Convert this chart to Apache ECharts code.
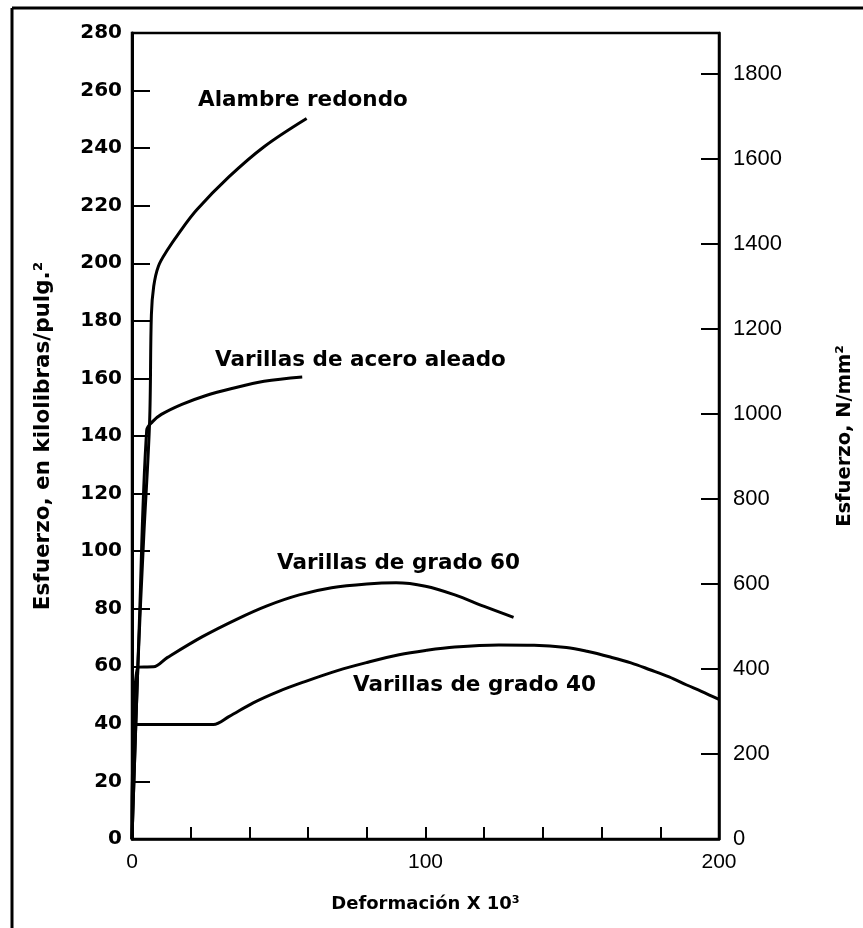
<!DOCTYPE html>
<html>
<head>
<meta charset="utf-8">
<title>Esfuerzo - Deformación</title>
<script src="https://cdn.jsdelivr.net/npm/echarts@6/dist/echarts.min.js"></script>
<style>
  html, body { margin: 0; padding: 0; background: #fff; }
  #chart { width: 863px; height: 928px; }
</style>
</head>
<body>
<div id="chart"></div>
<script>
// deformación x 10^3 , esfuerzo en ksi
var alambreRedondo = [[0, 0], [2, 60], [4, 105], [6, 145], [6.6, 182], [7.4, 192], [9, 199], [12, 204.5], [16, 210.5], [22, 218.5], [33, 230], [45, 240.5], [59.5, 250.3]]
var aceroAleado = [[0, 0], [2.5, 75], [5, 142], [7, 145], [10, 147.5], [17, 151], [25, 154], [34, 156.5], [45, 159], [58, 160.5]]
var grado60 = [[0, 0], [2, 59.7], [7.3, 59.8], [12, 63], [24, 70.3], [36, 76.5], [46, 81], [57, 84.8], [68, 87.3], [80, 88.6], [90, 89], [100, 87.8], [110, 84.8], [120, 80.8], [130, 77]]
var grado40 = [[0, 0], [1.4, 39.8], [27.7, 39.8], [33, 42.5], [41.3, 47.3], [50, 51.3], [58.4, 54.5], [70, 58.5], [80, 61.3], [91, 64], [100, 65.5], [110, 66.7], [125, 67.4], [137, 67.3], [148, 66.5], [155, 65.2], [163, 63.2], [170, 61.2], [176.5, 58.8], [183, 56.3], [189, 53.5], [194, 51.3], [200, 48.5]]

var nombres = ['Alambre redondo', 'Varillas de acero aleado', 'Varillas de grado 60', 'Varillas de grado 40']
// donde va el rotulo de cada curva (coordenadas de datos)
var posRotulos = [[22.5, 256.7], [28.3, 166.4], [49.4, 95.9], [75.3, 53.5]]

var xTicks = [0, 100, 200]

var chart = echarts.init(document.getElementById('chart'))

function serie(nombre, datos, i) {
	return {
		name: nombre,
		type: 'line',
		data: datos,
		smooth: 0.35,
		symbol: 'none',
		lineStyle: { color: '#000', width: 3 },
		animation: false,
		markPoint: {
			symbolSize: 0,
			animation: false,
			label: {
				show: true,
				position: 'right',
				distance: 0,
				color: '#000',
				fontFamily: 'DejaVu Sans',
				fontWeight: 'bold',
				fontSize: 21.5,
				formatter: nombre
			},
			data: [{ coord: posRotulos[i] }]
		}
	}
}

chart.setOption({
	backgroundColor: '#fff',
	grid: {
		left: 132,
		right: 144,
		top: 33,
		bottom: 89,
		show: true,
		borderColor: '#000',
		borderWidth: 2.5,
		outerBoundsMode: 'none'
	},
	xAxis: {
		type: 'value',
		min: 0,
		max: 200,
		interval: 20,
		name: 'Deformación X 10³',
		nameLocation: 'middle',
		nameGap: 56,
		nameTextStyle: { color: '#000', fontFamily: 'DejaVu Sans', fontWeight: 'bold', fontSize: 18 },
		axisLine: { lineStyle: { color: '#000', width: 2.5 } },
		axisTick: { inside: true, length: 12, lineStyle: { color: '#000', width: 2 } },
		splitLine: { show: false },
		axisLabel: {
			color: '#000',
			fontFamily: 'Liberation Sans',
			fontSize: 21,
			margin: 13,
			formatter: function (v) { return xTicks.indexOf(v) >= 0 ? String(v) : '' }
		}
	},
	yAxis: [{
		type: 'value',
		position: 'left',
		min: 0,
		max: 280,
		interval: 20,
		name: 'Esfuerzo, en kilolibras/pulg.²',
		nameLocation: 'middle',
		nameRotate: 90,
		nameGap: 78,
		nameTextStyle: { color: '#000', fontFamily: 'DejaVu Sans', fontWeight: 'bold', fontSize: 21.5 },
		axisLine: { show: true, lineStyle: { color: '#000', width: 3 } },
		axisTick: { inside: true, length: 18, lineStyle: { color: '#000', width: 2 } },
		splitLine: { show: false },
		axisLabel: { color: '#000', fontFamily: 'DejaVu Sans', fontWeight: 'bold', fontSize: 20, margin: 10 }
	}, {
		type: 'value',
		position: 'right',
		min: 0,
		max: 1896,
		interval: 200,
		name: 'Esfuerzo, N/mm²',
		nameLocation: 'middle',
		nameRotate: 90,
		nameGap: 116,
		nameTextStyle: { color: '#000', fontFamily: 'DejaVu Sans', fontWeight: 'bold', fontSize: 19.5 },
		axisLine: { show: true, lineStyle: { color: '#000', width: 2.5 } },
		axisTick: { inside: true, length: 18, lineStyle: { color: '#000', width: 2 } },
		splitLine: { show: false },
		axisLabel: {
			color: '#000',
			fontFamily: 'Liberation Sans',
			fontSize: 22,
			margin: 14,
			showMaxLabel: false,
			formatter: function (v) { return String(v) }
		}
	}],
	graphic: [
		{ type: 'line', shape: { x1: 12, y1: 8, x2: 863, y2: 8 }, style: { stroke: '#000', lineWidth: 3 } },
		{ type: 'line', shape: { x1: 12, y1: 8, x2: 12, y2: 928 }, style: { stroke: '#000', lineWidth: 3 } }
	],
	series: [
		serie(nombres[0], alambreRedondo, 0),
		serie(nombres[1], aceroAleado, 1),
		serie(nombres[2], grado60, 2),
		serie(nombres[3], grado40, 3)
	]
})
</script>
</body>
</html>
